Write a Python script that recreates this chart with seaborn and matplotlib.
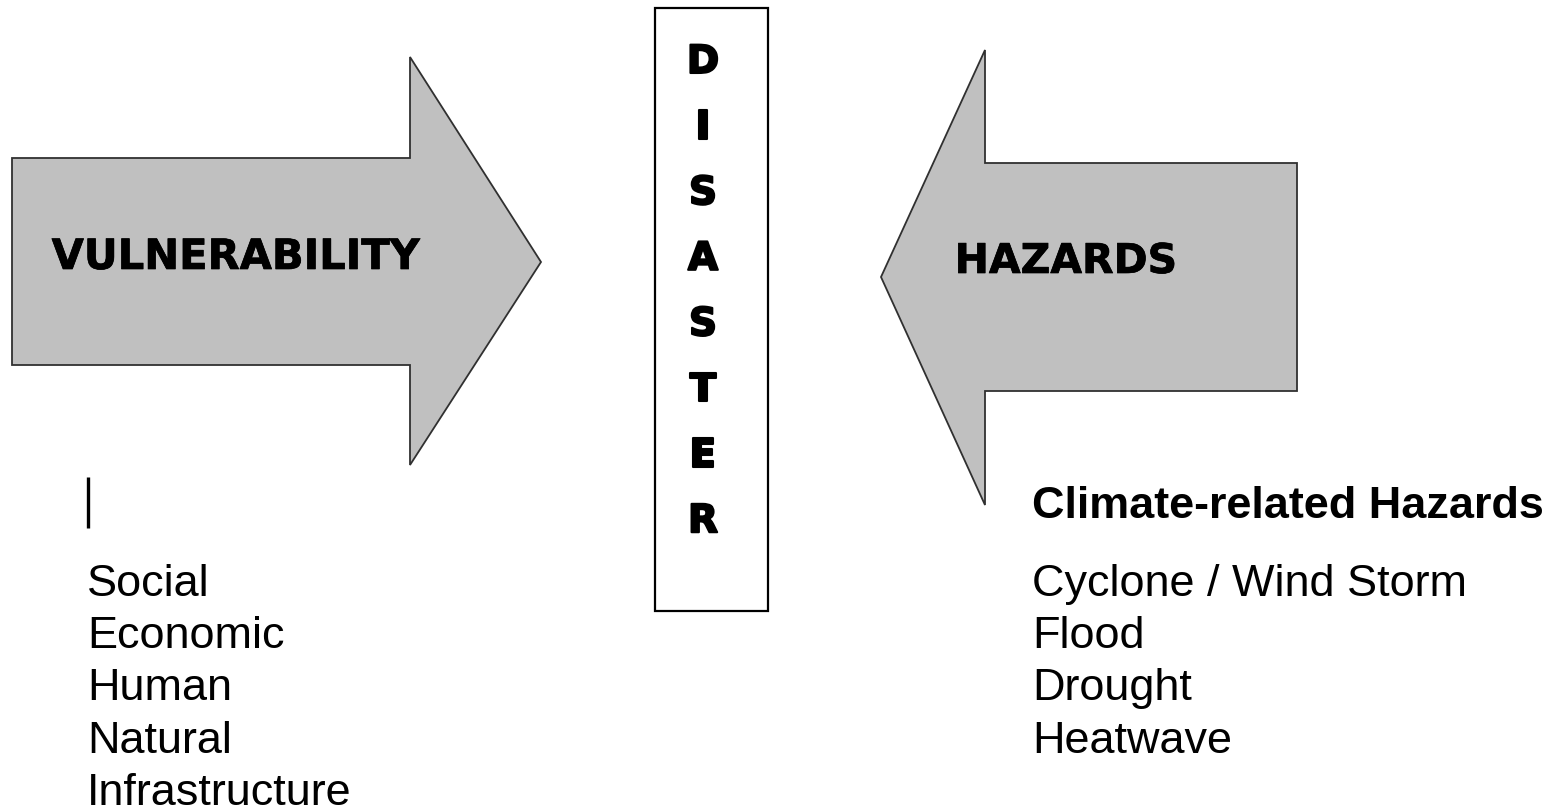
import matplotlib
matplotlib.use("Agg")
import matplotlib.pyplot as plt
import matplotlib.patheffects as pe
import seaborn as sns
from matplotlib.patches import Polygon, Rectangle

# Diagram content
LEFT_LABEL = "VULNERABILITY"
RIGHT_LABEL = "HAZARDS"
CENTER_WORD = "DISASTER"
HAZARD_TITLE = "Climate-related Hazards"
vulnerability_types = ["Social", "Economic", "Human", "Natural", "Infrastructure"]
hazard_types = ["Cyclone / Wind Storm", "Flood", "Drought", "Heatwave"]

# Layout (pixel space, y grows downward)
W, H = 1566, 810
ARROW_FILL = "#c0c0c0"
ARROW_EDGE = "#303030"
LIST_BASE = 596      # baseline of first list line
LIST_STEP = 52.2     # line pitch
LIST_SIZE = 32.4


def main():
    sns.set_theme(style="white")
    plt.rcParams["font.family"] = ["Liberation Sans", "DejaVu Sans"]

    fig = plt.figure(figsize=(W / 100, H / 100), dpi=100)
    ax = fig.add_axes([0, 0, 1, 1])
    ax.set_xlim(0, W)
    ax.set_ylim(H, 0)
    ax.axis("off")
    sns.despine(ax=ax, left=True, bottom=True)

    heavy = [pe.withStroke(linewidth=0.5, foreground="black")]
    heavier = [pe.withStroke(linewidth=1.5, foreground="black")]

    # right-pointing arrow (vulnerability)
    right_arrow = [(12, 158), (410, 158), (410, 57), (541, 262),
                   (410, 465), (410, 365), (12, 365)]
    ax.add_patch(Polygon(right_arrow, closed=True, facecolor=ARROW_FILL,
                         edgecolor=ARROW_EDGE, linewidth=1.3, joinstyle="miter"))
    ax.text(236, 257, LEFT_LABEL, family="DejaVu Sans", fontweight="bold",
            fontsize=30, ha="center", va="center", color="black",
            path_effects=heavy)

    # left-pointing arrow (hazards)
    left_arrow = [(1297, 163), (985, 163), (985, 50), (881, 277),
                  (985, 505), (985, 391), (1297, 391)]
    ax.add_patch(Polygon(left_arrow, closed=True, facecolor=ARROW_FILL,
                         edgecolor=ARROW_EDGE, linewidth=1.3, joinstyle="miter"))
    ax.text(1066, 262, RIGHT_LABEL, family="DejaVu Sans", fontweight="bold",
            fontsize=29.5, ha="center", va="center", color="black",
            path_effects=heavy)

    # central DISASTER box with stacked letters
    ax.add_patch(Rectangle((655, 8), 113, 603, facecolor="white",
                           edgecolor="black", linewidth=1.6))
    for i, ch in enumerate(CENTER_WORD):
        ax.text(703, 73 + i * 65.6, ch, family="DejaVu Sans", fontweight="bold",
                fontsize=28, ha="center", va="baseline", color="black",
                path_effects=heavier)

    # little cursor bar above the vulnerability list
    ax.plot([88, 88], [477, 528], color="black", linewidth=2.4,
            solid_capstyle="butt")

    # vulnerability list
    for i, name in enumerate(vulnerability_types):
        ax.text(87, LIST_BASE + i * LIST_STEP, name, fontsize=LIST_SIZE,
                ha="left", va="baseline", color="black")

    # hazard list
    ax.text(1032, 518, HAZARD_TITLE, fontsize=LIST_SIZE, fontweight="bold",
            ha="left", va="baseline", color="black")
    for i, name in enumerate(hazard_types):
        ax.text(1032, LIST_BASE + i * LIST_STEP, name, fontsize=LIST_SIZE,
                ha="left", va="baseline", color="black")

    fig.savefig("out.png", dpi=100, facecolor="white")


if __name__ == "__main__":
    main()
